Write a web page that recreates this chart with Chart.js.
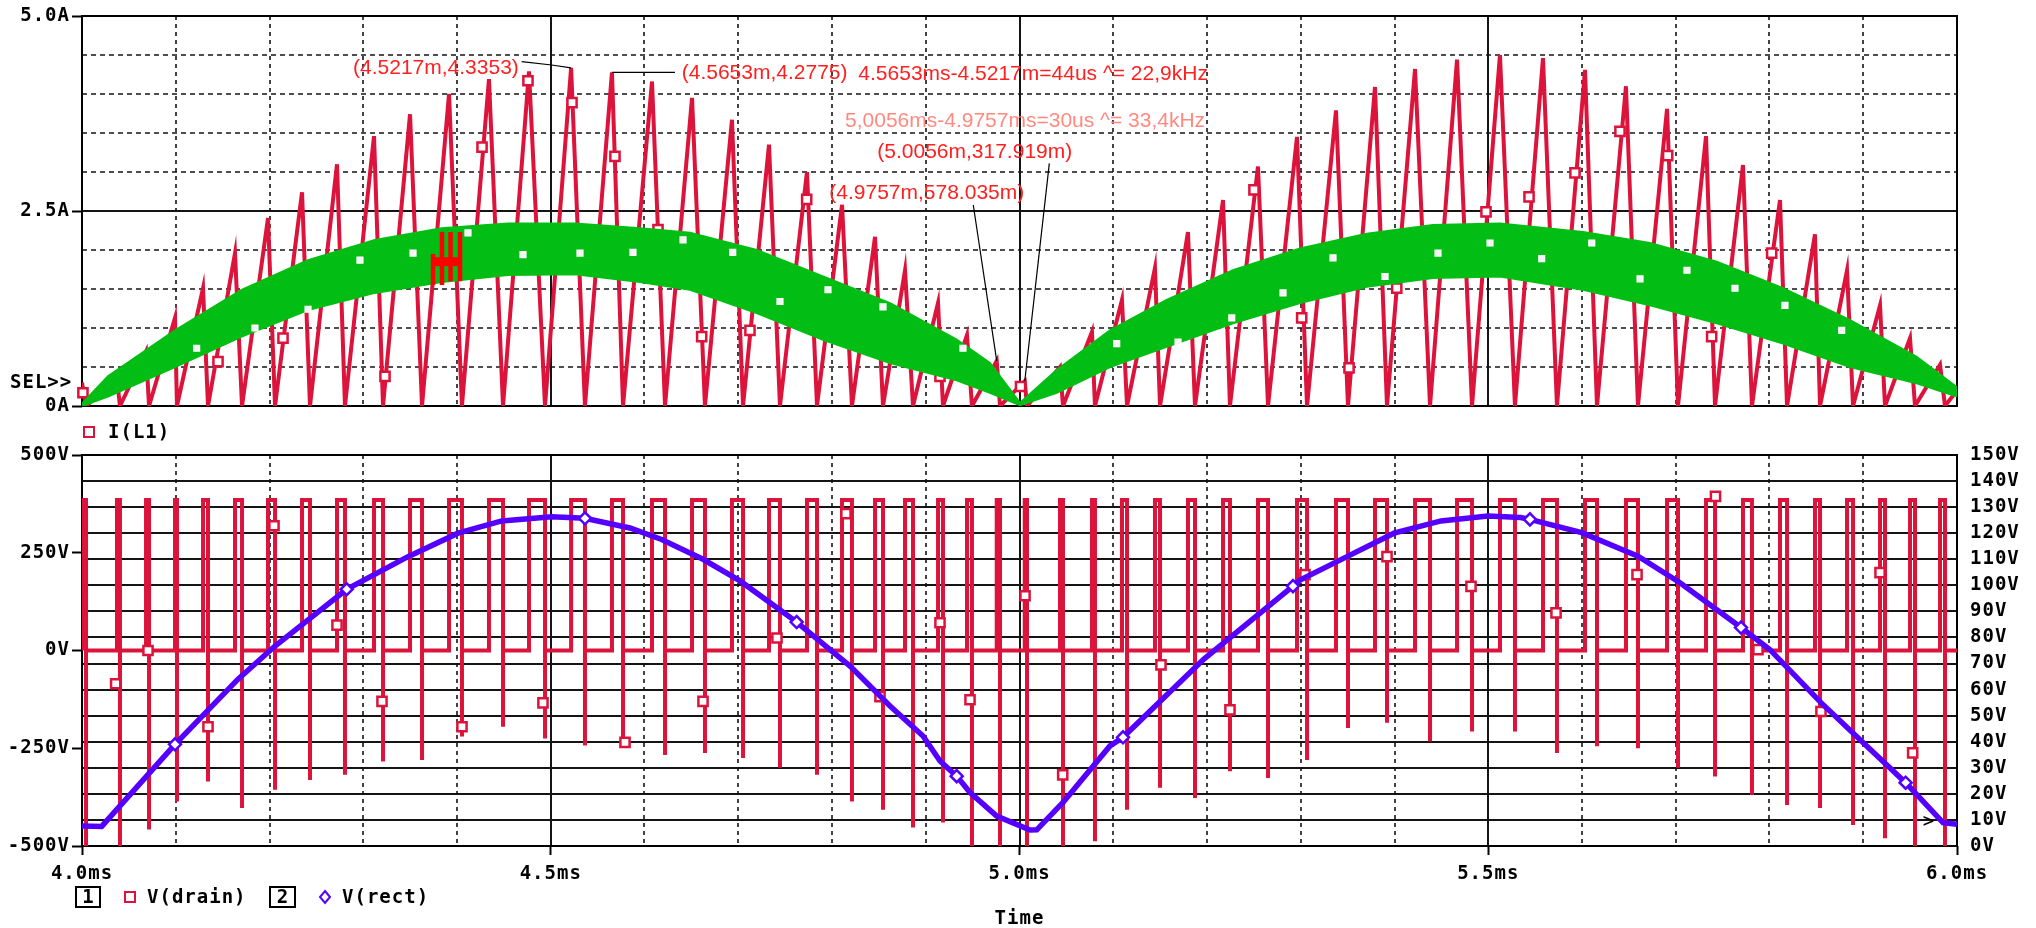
<!DOCTYPE html>
<html lang="en">
<head>
<meta charset="UTF-8">
<title>I(L1), V(drain), V(rect)</title>
<script src="https://cdn.jsdelivr.net/npm/chart.js"></script>
<style>
  body { margin: 0; background: #fff; overflow: hidden; }
  #wrap { position: relative; width: 2036px; height: 928px; }
  canvas { position: absolute; left: 0; }
  #top { top: 0; }
  #bottom { top: 430px; }
</style>
</head>
<body>
<div id="wrap">
  <canvas id="top" width="2036" height="450"></canvas>
  <canvas id="bottom" width="2036" height="498"></canvas>
</div>
<script>
// ---------- time axis (ms) ----------
const xTickValues = [4.0, 4.5, 5.0, 5.5, 6.0];
const xTickLabels = ['4.0ms', '4.5ms', '5.0ms', '5.5ms', '6.0ms'];
const timeGridMinor = [4.1, 4.2, 4.3, 4.4, 4.6, 4.7, 4.8, 4.9, 5.1, 5.2, 5.3, 5.4, 5.6, 5.7, 5.8, 5.9];
const timeGridMajor = [4.5, 5.0, 5.5];

// ---------- top plot: I(L1) ----------
const ampTickValues = [0, 2.5, 5.0];
const ampTickLabels = ['0A', '2.5A', '5.0A'];
const ampGridMinor = [0.5, 1.0, 1.5, 2.0, 3.0, 3.5, 4.0, 4.5];
const ampGridMajor = [2.5];

// switching cycles: time of current peak, peak current, time the current is back at zero
const peakTimes = [4.0000, 4.0373, 4.0683, 4.0992, 4.1291, 4.1632, 4.1984, 4.2347, 4.2720, 4.3115,
  4.3499, 4.3915, 4.4341, 4.4768, 4.5217, 4.5653, 4.6080, 4.6507, 4.6933, 4.7328,
  4.7733, 4.8107, 4.8459, 4.8779, 4.9131, 4.9440, 4.9757, 5.0056, 5.0432, 5.0773,
  5.1093, 5.1445, 5.1797, 5.2171, 5.2544, 5.2960, 5.3376, 5.3792, 5.4219, 5.4667,
  5.5125, 5.5584, 5.6032, 5.6469, 5.6907, 5.7323, 5.7717, 5.8112, 5.8485, 5.8827,
  5.9179, 5.9499, 5.9819];
const peakAmps = [0.30, 0.35, 0.70, 1.13, 1.51, 1.96, 2.41, 2.74, 3.10, 3.46,
  3.74, 4.00, 4.19, 4.29, 4.3353, 4.2775, 4.16, 3.95, 3.67, 3.35,
  3.00, 2.58, 2.17, 1.74, 1.32, 0.91, 0.578, 0.318, 0.50, 0.95,
  1.36, 1.77, 2.23, 2.64, 3.07, 3.45, 3.79, 4.09, 4.32, 4.44,
  4.50, 4.46, 4.31, 4.10, 3.81, 3.46, 3.09, 2.64, 2.20, 1.74,
  1.29, 0.87, 0.53];
const zeroTimes = [4.0043, 4.0405, 4.0715, 4.1013, 4.1344, 4.1707, 4.2059, 4.2432, 4.2805, 4.3211,
  4.3627, 4.4053, 4.4491, 4.4939, 4.5365, 4.5771, 4.6219, 4.6645, 4.7051, 4.7445,
  4.7840, 4.8213, 4.8544, 4.8864, 4.9184, 4.9493, 4.9792, 5.0080, 5.0464, 5.0805,
  5.1147, 5.1499, 5.1872, 5.2245, 5.2651, 5.3067, 5.3504, 5.3920, 5.4379, 5.4827,
  5.5285, 5.5733, 5.6160, 5.6597, 5.7024, 5.7419, 5.7813, 5.8187, 5.8539, 5.8891,
  5.9232, 5.9552, 5.9872];
const iL1EndTime = 6.0;
const iL1EndAmp = 0.2;

const iL1MarkerT = [4.0010, 4.1451, 4.2144, 4.3232, 4.4267, 4.4757, 4.5227, 4.5685, 4.6144, 4.6610,
  4.7125, 4.7730, 4.9152, 5.0011, 5.2501, 5.3010, 5.3515, 5.4024, 5.4976, 5.5435,
  5.5925, 5.6405, 5.6914, 5.7383, 5.8023];
const iL1MarkerA = [0.17, 0.57, 0.87, 0.38, 3.32, 4.17, 3.89, 3.20, 2.26, 0.89,
  0.97, 2.65, 0.38, 0.25, 2.77, 1.13, 0.49, 1.51, 2.49, 2.68,
  2.99, 3.52, 3.21, 0.89, 1.96];

// green high-frequency trace, kept as its envelope
const bandTimes = [4.0, 4.0277, 4.0992, 4.1703, 4.2411, 4.3125, 4.3837, 4.4544, 4.5259, 4.5952,
  4.6485, 4.7197, 4.7904, 4.8619, 4.9330, 4.9685, 5.0005, 5.0397, 5.0965, 5.1570,
  5.2277, 5.2992, 5.3704, 5.4411, 5.5125, 5.6011, 5.6725, 5.7437, 5.8144, 5.8859,
  5.9570, 6.0];
const bandUpper = [0.03, 0.38, 0.97, 1.49, 1.87, 2.13, 2.28, 2.34, 2.34, 2.28,
  2.22, 2.00, 1.66, 1.32, 0.85, 0.55, 0.04, 0.46, 0.97, 1.36,
  1.74, 2.02, 2.21, 2.32, 2.34, 2.23, 2.09, 1.85, 1.51, 1.10,
  0.63, 0.24];
const bandLower = [0.00, 0.12, 0.50, 0.89, 1.23, 1.45, 1.59, 1.68, 1.69, 1.59,
  1.49, 1.19, 0.85, 0.55, 0.33, 0.17, 0.01, 0.17, 0.50, 0.76,
  1.06, 1.32, 1.53, 1.64, 1.66, 1.49, 1.29, 1.06, 0.80, 0.50,
  0.29, 0.12];
const bandMarkerT = [4.1223, 4.1845, 4.2411, 4.2965, 4.3531, 4.4117, 4.4704, 4.5312, 4.5877, 4.6411,
  4.6941, 4.7445, 4.7957, 4.8544, 4.9397, 5.1037, 5.1691, 5.2264, 5.2811, 5.3344,
  5.3899, 5.4464, 5.5019, 5.5570, 5.6104, 5.6619, 5.7120, 5.7632, 5.8165, 5.8770];
const bandMarkerA = [0.74, 1.00, 1.24, 1.87, 1.96, 2.22, 1.94, 1.96, 1.97, 2.13,
  1.97, 1.34, 1.49, 1.27, 0.74, 0.80, 0.82, 1.13, 1.45, 1.90,
  1.66, 1.96, 2.09, 1.89, 2.09, 1.63, 1.74, 1.51, 1.29, 0.97];

// red cursor glyph
const cursorBarT = [4.3744, 4.3840, 4.3931, 4.4032];
const cursorBarLow = [1.55, 1.55, 1.60, 1.60];
const cursorBarHigh = [1.95, 2.23, 2.23, 2.23];
const cursorCrossT = [4.3725, 4.4050];
const cursorCrossA = 1.85;

// ---------- bottom plot: V(drain), V(rect) ----------
const voltTickValues = [-500, -250, 0, 250, 500];
const voltTickLabels = ['-500V', '-250V', '0V', '250V', '500V'];
const rectTickValues = [0, 10, 20, 30, 40, 50, 60, 70, 80, 90, 100, 110, 120, 130, 140, 150];
const rectTickLabels = ['0V', '10V', '20V', '30V', '40V', '50V', '60V', '70V', '80V', '90V',
  '100V', '110V', '120V', '130V', '140V', '150V'];
const rectGridLines = [10, 20, 30, 40, 50, 60, 70, 80, 90, 100, 110, 120, 130, 140];

const drainHigh = 385;
const drainSpike = [-500, -500, -458, -386, -335, -403, -356, -331, -318, -284,
  -280, -220, -195, -225, -243, -236, -267, -262, -275, -300,
  -318, -386, -407, -453, -440, -500, -500, -500, -500, -488,
  -407, -351, -377, -309, -326, -280, -198, -185, -233, -207,
  -207, -262, -245, -250, -300, -322, -369, -395, -403, -446,
  -480, -500, -500];
const drainMarkerT = [4.0359, 4.0704, 4.1344, 4.2048, 4.2720, 4.3200, 4.4053, 4.4917, 4.5792, 4.6624,
  4.7413, 4.8149, 4.8512, 4.9152, 4.9472, 5.0059, 5.0461, 5.1509, 5.2245, 5.3045,
  5.3920, 5.4816, 5.5723, 5.6587, 5.7424, 5.7877, 5.8549, 5.9179, 5.9527];
const drainMarkerV = [-85, 0, -195, 319, 65, -130, -195, -134, -235, -130,
  32, 350, -118, 71, -126, 140, -318, -37, -152, 194,
  240, 164, 96, 194, 394, 2, -156, 199, -262];

const rectTimes = [4.0, 4.021, 4.0992, 4.1664, 4.2059, 4.2823, 4.3477, 4.4011, 4.4477, 4.5010,
  4.5365, 4.5845, 4.6183, 4.6624, 4.7019, 4.7410, 4.7623, 4.8192, 4.8619, 4.8971,
  4.9152, 4.9330, 4.9472, 4.9757, 5.0112, 5.0184, 5.0464, 5.0965, 5.1104, 5.1964,
  5.2917, 5.2992, 5.3493, 5.3995, 5.4496, 5.4997, 5.5346, 5.5445, 5.5997, 5.6597,
  5.7045, 5.7696, 5.8000, 5.8549, 5.8997, 5.9452, 5.9851, 6.0];
const rectVolts = [7.7, 7.5, 39, 64, 76.7, 98.5, 111, 120, 124.7, 126.3,
  125.7, 122, 117.6, 110, 101.7, 91.5, 85.9, 69, 53.7, 42.2,
  32.6, 26.8, 20.5, 11.5, 6.1, 6.2, 16.7, 38.4, 41.7, 71.6,
  99.7, 102, 111, 120, 124.7, 126.6, 126, 125.3, 120.2, 111.2,
  101, 83.8, 75.5, 55, 39.7, 24.3, 9, 8.3];
const rectMarkerT = [4.0992, 4.2823, 4.5365, 4.7623, 4.9330, 5.1104, 5.2917, 5.5445, 5.7696, 5.9452];
const rectMarkerV = [39, 98.5, 125.7, 85.9, 26.8, 41.7, 99.7, 125.3, 83.8, 24.3];

// ---------- cursor read-outs on the top plot ----------
const notes = [
  { text: '(4.5217m,4.3353)', t: 4.2891, a: 4.333, color: '#ff2020' },
  { text: '(4.5653m,4.2775)', t: 4.6397, a: 4.265, color: '#ff2020' },
  { text: '4.5653ms-4.5217m=44us ^= 22,9kHz', t: 4.8281, a: 4.256, color: '#ff2020' },
  { text: '5,0056ms-4.9757ms=30us ^= 33,4kHz', t: 4.8139, a: 3.654, color: '#ff8a80' },
  { text: '(5.0056m,317.919m)', t: 4.8483, a: 3.260, color: '#ff2020' },
  { text: '(4.9757m,578.035m)', t: 4.7971, a: 2.727, color: '#ff2020' }
];
const leaders = [
  { t: [4.4690, 4.5010, 4.5217], a: [4.414, 4.372, 4.3353] },
  { t: [4.5653, 4.6325], a: [4.2775, 4.2775] },
  { t: [5.0318, 5.0056], a: [3.111, 0.318] },
  { t: [4.9507, 4.9757], a: [2.577, 0.578] }
];

// ---------- build series ----------
const RED = '#dc143c';
const GREEN = '#02be14';
const BLUE = '#5500ff';

const iL1Points = [];
peakTimes.forEach((t, i) => {
  if (i > 0) iL1Points.push({ x: zeroTimes[i - 1], y: 0 });
  iL1Points.push({ x: t, y: peakAmps[i] });
});
iL1Points.push({ x: zeroTimes[zeroTimes.length - 1], y: 0 });
iL1Points.push({ x: iL1EndTime, y: iL1EndAmp });

const drainPoints = [{ x: 4.0, y: 0 }];
peakTimes.forEach((t, i) => {
  const z = zeroTimes[i];
  drainPoints.push({ x: t, y: 0 }, { x: t, y: drainHigh }, { x: z, y: drainHigh },
    { x: z, y: drainSpike[i] }, { x: z, y: 0 });
});
drainPoints.push({ x: 6.0, y: 0 });

const cursorBars = [];
cursorBarT.forEach((t, i) => {
  cursorBars.push({ x: t, y: cursorBarLow[i] }, { x: t, y: cursorBarHigh[i] }, { x: t, y: null });
});

const zip = (xs, ys) => xs.map((x, i) => ({ x: x, y: ys[i] }));

// ---------- drawing helpers ----------
Chart.defaults.font.family = '"DejaVu Sans Mono", monospace';
Chart.defaults.font.size = 19;
Chart.defaults.font.weight = 'bold';
Chart.defaults.color = '#000';

function line(ctx, x1, y1, x2, y2) {
  ctx.beginPath();
  ctx.moveTo(x1, y1);
  ctx.lineTo(x2, y2);
  ctx.stroke();
}

function drawTimeGrid(ctx, a, x) {
  ctx.strokeStyle = '#141414';
  ctx.lineWidth = 1.6;
  ctx.setLineDash([4, 4]);
  timeGridMinor.forEach(t => {
    const px = Math.round(x.getPixelForValue(t));
    line(ctx, px, a.top, px, a.bottom);
  });
  ctx.setLineDash([]);
  ctx.lineWidth = 2;
  timeGridMajor.forEach(t => {
    const px = Math.round(x.getPixelForValue(t));
    line(ctx, px, a.top, px, a.bottom);
  });
}

const topDecor = {
  id: 'topDecor',
  beforeDraw(chart) { chart.ctx.letterSpacing = '1px'; },
  beforeDatasetsDraw(chart) {
    const { ctx, chartArea: a, scales: { x, y } } = chart;
    ctx.save();
    ctx.strokeStyle = '#141414';
    ctx.lineWidth = 1.6;
    ctx.setLineDash([5, 4]);
    ampGridMinor.forEach(v => {
      const py = Math.round(y.getPixelForValue(v));
      line(ctx, a.left, py, a.right, py);
    });
    ctx.setLineDash([]);
    ctx.lineWidth = 2;
    ampGridMajor.forEach(v => {
      const py = Math.round(y.getPixelForValue(v));
      line(ctx, a.left, py, a.right, py);
    });
    drawTimeGrid(ctx, a, x);
    ctx.strokeStyle = '#000';
    ctx.lineWidth = 2;
    ctx.strokeRect(a.left, a.top, a.right - a.left, a.bottom - a.top);
    ctx.restore();
  },
  afterDatasetsDraw(chart) {
    const { ctx, scales: { x, y } } = chart;
    ctx.save();
    ctx.letterSpacing = '0px';
    ctx.strokeStyle = '#000';
    ctx.lineWidth = 1.2;
    leaders.forEach(l => {
      ctx.beginPath();
      l.t.forEach((t, i) => {
        const px = x.getPixelForValue(t), py = y.getPixelForValue(l.a[i]);
        if (i === 0) ctx.moveTo(px, py); else ctx.lineTo(px, py);
      });
      ctx.stroke();
    });
    ctx.font = '21px "Liberation Sans", Arial, sans-serif';
    ctx.textAlign = 'left';
    ctx.textBaseline = 'middle';
    notes.forEach(n => {
      ctx.fillStyle = n.color;
      ctx.fillText(n.text, x.getPixelForValue(n.t), y.getPixelForValue(n.a));
    });
    ctx.restore();
  },
  afterDraw(chart) {
    const { ctx, scales: { y } } = chart;
    ctx.save();
    ctx.letterSpacing = '1px';
    ctx.font = 'bold 19px "DejaVu Sans Mono", monospace';
    ctx.fillStyle = '#000';
    ctx.textBaseline = 'middle';
    ctx.textAlign = 'left';
    ctx.fillText('SEL>>', 10, y.getPixelForValue(0.3));
    // legend of the top plot
    ctx.strokeStyle = RED;
    ctx.lineWidth = 2;
    ctx.strokeRect(84, 427, 10, 10);
    ctx.fillText('I(L1)', 108, 433);
    ctx.restore();
  }
};

const bottomDecor = {
  id: 'bottomDecor',
  beforeDraw(chart) { chart.ctx.letterSpacing = '1px'; },
  beforeDatasetsDraw(chart) {
    const { ctx, chartArea: a, scales: { x, y2 } } = chart;
    ctx.save();
    ctx.strokeStyle = '#141414';
    ctx.lineWidth = 1.8;
    rectGridLines.forEach(v => {
      const py = Math.round(y2.getPixelForValue(v));
      line(ctx, a.left, py, a.right, py);
    });
    drawTimeGrid(ctx, a, x);
    ctx.strokeStyle = '#000';
    ctx.lineWidth = 2;
    ctx.strokeRect(a.left, a.top, a.right - a.left, a.bottom - a.top);
    ctx.restore();
  },
  afterDraw(chart) {
    const { ctx, chartArea: a, scales: { x, y2 } } = chart;
    ctx.save();
    ctx.letterSpacing = '1px';
    ctx.font = 'bold 19px "DejaVu Sans Mono", monospace';
    ctx.fillStyle = '#000';
    ctx.textBaseline = 'middle';
    const ly = 467;
    // legend: 1 [] V(drain)   2 <> V(rect)
    ctx.strokeStyle = '#000';
    ctx.lineWidth = 2;
    ctx.strokeRect(76, ly - 10, 24, 20);
    ctx.strokeRect(270, ly - 10, 25, 20);
    ctx.textAlign = 'center';
    ctx.fillText('1', 88.5, ly + 1);
    ctx.fillText('2', 283, ly + 1);
    ctx.strokeStyle = RED;
    ctx.strokeRect(125, ly - 5, 10, 10);
    ctx.strokeStyle = BLUE;
    ctx.beginPath();
    ctx.moveTo(325, ly - 6); ctx.lineTo(330, ly); ctx.lineTo(325, ly + 6); ctx.lineTo(320, ly); ctx.closePath();
    ctx.stroke();
    ctx.textAlign = 'left';
    ctx.fillText('V(drain)', 147, ly + 1);
    ctx.fillText('V(rect)', 342, ly + 1);
    ctx.textAlign = 'center';
    ctx.fillText('Time', (a.left + a.right) / 2, 489);
    // selected-trace mark of V(rect)
    ctx.font = '19px "DejaVu Sans Mono", monospace';
    ctx.fillText('>', x.getPixelForValue(5.970), y2.getPixelForValue(9.1));
    ctx.restore();
  }
};

// ---------- top chart ----------
new Chart(document.getElementById('top'), {
  type: 'line',
  data: {
    datasets: [
      { label: 'cursor', data: cursorBars, borderColor: '#ff0000', borderWidth: 4.5,
        pointRadius: 0, spanGaps: false, order: 0 },
      { label: 'cursor bar', data: cursorCrossT.map(t => ({ x: t, y: cursorCrossA })),
        borderColor: '#ff0000', borderWidth: 9, pointRadius: 0, order: 0 },
      { label: 'band markers', data: zip(bandMarkerT, bandMarkerA), showLine: false,
        pointStyle: 'rect', pointRadius: 4, pointBackgroundColor: '#f4f4f4',
        pointBorderColor: '#ffffff', pointBorderWidth: 1.5, order: 1 },
      { label: 'band lower', data: zip(bandTimes, bandLower), borderColor: GREEN, borderWidth: 2,
        pointRadius: 0, fill: false, order: 2 },
      { label: 'band upper', data: zip(bandTimes, bandUpper), borderColor: GREEN, borderWidth: 2,
        backgroundColor: GREEN, pointRadius: 0, fill: '-1', order: 2 },
      { label: 'I(L1) markers', data: zip(iL1MarkerT, iL1MarkerA), showLine: false,
        pointStyle: 'rect', pointRadius: 6.5, pointBackgroundColor: '#ffffff',
        pointBorderColor: RED, pointBorderWidth: 2.5, clip: 10, order: 3 },
      { label: 'I(L1)', data: iL1Points, borderColor: RED, borderWidth: 4, pointRadius: 0,
        borderJoinStyle: 'miter', order: 4 }
    ]
  },
  options: {
    responsive: false,
    animation: false,
    events: [],
    layout: { padding: { top: 16, right: 79, bottom: 44, left: 0 } },
    elements: { line: { tension: 0 } },
    plugins: { legend: { display: false }, tooltip: { enabled: false } },
    scales: {
      x: {
        type: 'linear', min: 4, max: 6,
        ticks: { display: false },
        grid: { display: false },
        border: { display: false },
        afterFit: s => { s.height = 0; }
      },
      y: {
        type: 'linear', min: 0, max: 5,
        afterBuildTicks: s => { s.ticks = ampTickValues.map(v => ({ value: v })); },
        afterFit: s => { s.width = 82; },
        ticks: { callback: (v, i) => ampTickLabels[i], padding: 2, autoSkip: false },
        grid: { drawOnChartArea: false, drawTicks: true, tickLength: 10, tickColor: '#000', tickWidth: 2 },
        border: { display: false }
      }
    }
  },
  plugins: [topDecor]
});

// ---------- bottom chart ----------
new Chart(document.getElementById('bottom'), {
  type: 'line',
  data: {
    datasets: [
      { label: 'V(rect) markers', data: zip(rectMarkerT, rectMarkerV), yAxisID: 'y2', showLine: false,
        pointStyle: 'rectRot', pointRadius: 6, pointBackgroundColor: '#ffffff',
        pointBorderColor: BLUE, pointBorderWidth: 2.5, order: 0 },
      { label: 'V(rect)', data: zip(rectTimes, rectVolts), yAxisID: 'y2', borderColor: BLUE,
        borderWidth: 5.5, pointRadius: 0, order: 1 },
      { label: 'V(drain) markers', data: zip(drainMarkerT, drainMarkerV), yAxisID: 'y', showLine: false,
        pointStyle: 'rect', pointRadius: 6.5, pointBackgroundColor: '#ffffff',
        pointBorderColor: RED, pointBorderWidth: 2.5, order: 2 },
      { label: 'V(drain)', data: drainPoints, yAxisID: 'y', borderColor: RED, borderWidth: 4,
        pointRadius: 0, borderJoinStyle: 'miter', order: 3 }
    ]
  },
  options: {
    responsive: false,
    animation: false,
    events: [],
    layout: { padding: { top: 25, right: 0, bottom: 42, left: 0 } },
    elements: { line: { tension: 0 } },
    plugins: { legend: { display: false }, tooltip: { enabled: false } },
    scales: {
      x: {
        type: 'linear', min: 4, max: 6,
        afterBuildTicks: s => { s.ticks = xTickValues.map(v => ({ value: v })); },
        afterFit: s => { s.height = 40; },
        ticks: { callback: (v, i) => xTickLabels[i], padding: 8, maxRotation: 0, autoSkip: false },
        grid: { drawOnChartArea: false, drawTicks: true, tickLength: 9, tickColor: '#000', tickWidth: 2 },
        border: { display: false }
      },
      y: {
        type: 'linear', position: 'left', min: -500, max: 500,
        afterBuildTicks: s => { s.ticks = voltTickValues.map(v => ({ value: v })); },
        afterFit: s => { s.width = 82; },
        ticks: { callback: (v, i) => voltTickLabels[i], padding: 2, autoSkip: false },
        grid: { drawOnChartArea: false, drawTicks: true, tickLength: 10, tickColor: '#000', tickWidth: 2 },
        border: { display: false }
      },
      y2: {
        type: 'linear', position: 'right', min: 0, max: 150,
        afterBuildTicks: s => { s.ticks = rectTickValues.map(v => ({ value: v })); },
        afterFit: s => { s.width = 79; },
        ticks: { callback: (v, i) => rectTickLabels[i], padding: 5, autoSkip: false },
        grid: { display: false },
        border: { display: false }
      }
    }
  },
  plugins: [bottomDecor]
});
</script>
</body>
</html>
